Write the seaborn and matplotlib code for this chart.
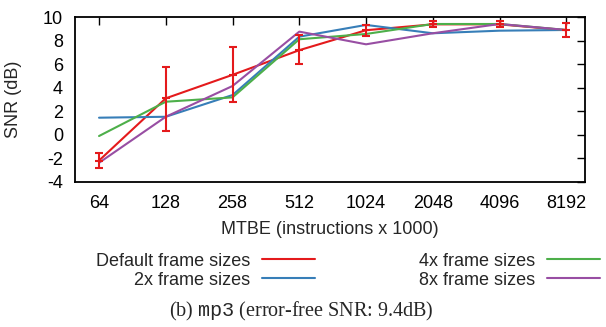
import numpy as np
import pandas as pd
import matplotlib
matplotlib.use("Agg")
import matplotlib.pyplot as plt
import seaborn as sns

# ---- data ----
mtbe_labels = ["64", "128", "258", "512", "1024", "2048", "4096", "8192"]
series_names = ["Default frame sizes", "2x frame sizes", "4x frame sizes", "8x frame sizes"]
snr_default = [-2.2, 3.1, 5.1, 7.2, 8.9, 9.4, 9.4, 8.9]
snr_default_low = [-2.85, 0.35, 2.75, 6.0, 8.4, 9.15, 9.2, 8.35]
snr_default_high = [-1.55, 5.8, 7.5, 8.5, 9.35, 9.7, 9.65, 9.55]
snr_2x = [1.45, 1.53, 3.38, 8.35, 9.35, 8.64, 8.86, 8.92]
snr_4x = [-0.11, 2.81, 3.18, 8.13, 8.58, 9.43, 9.43, 8.92]
snr_8x = [-2.39, 1.53, 4.15, 8.78, 7.7, 8.64, 9.43, 8.92]
colors = ["#e41a1c", "#377eb8", "#4daf4a", "#984ea3"]

sns.set_style("white")
plt.rcParams["font.family"] = ["Liberation Sans", "DejaVu Sans"]
plt.rcParams["axes.unicode_minus"] = False
plt.rcParams["mathtext.fontset"] = "custom"
plt.rcParams["mathtext.tt"] = "Liberation Mono"
plt.rcParams["mathtext.rm"] = "Liberation Serif"

pos = np.arange(len(mtbe_labels))
rows = []
for name, vals in zip(series_names, [snr_default, snr_2x, snr_4x, snr_8x]):
    for p, v in zip(pos, vals):
        rows.append({"pos": p, "snr": v, "series": name})
df = pd.DataFrame(rows)

fig = plt.figure(figsize=(6.06, 3.27), dpi=100)
ax = fig.add_axes([75 / 606, 1 - 181.7 / 327, 510 / 606, 164.4 / 327])

sns.lineplot(data=df, x="pos", y="snr", hue="series", hue_order=series_names,
             palette=colors, sort=False, linewidth=1.5, ax=ax, legend=False)

yerr = [np.array(snr_default) - np.array(snr_default_low),
        np.array(snr_default_high) - np.array(snr_default)]
ax.errorbar(pos, snr_default, yerr=yerr, fmt="_", color=colors[0], ecolor=colors[0],
            elinewidth=1.5, capsize=2.9, capthick=1.5, markersize=6, mew=1.5, zorder=5)

ax.set_xlim(-0.36, 7.28)
ax.set_ylim(-4, 10)
ax.set_xticks(pos)
ax.set_xticklabels(mtbe_labels)
ax.set_yticks(np.arange(-4, 11, 2))
ax.tick_params(direction="in", length=5.8, width=1, top=True, right=True,
               labelsize=13, pad=9.4, colors="black")
ax.tick_params(axis="y", pad=8.6)
for s in ax.spines.values():
    s.set_linewidth(1.3)
    s.set_color("black")

ax.set_xlabel("MTBE (instructions x 1000)", fontsize=13, labelpad=7)
ax.set_ylabel("SNR (dB)", fontsize=13)
ax.yaxis.set_label_coords(-0.104, 0.5)

handles = ax.get_lines()[:4]
ax.legend(handles, series_names, ncol=2, markerfirst=False, frameon=False,
          fontsize=13, handlelength=2.93, handletextpad=0.66, columnspacing=5.76,
          labelspacing=0.12, borderpad=0, borderaxespad=0, loc="upper left",
          bbox_to_anchor=(96 / 606, 1 - 252.5 / 327), bbox_transform=fig.transFigure)

fig.text(301 / 606, 1 - 311 / 327, r"(b) $\mathtt{mp3}$ (error-free SNR: 9.4dB)",
         ha="center", va="center", family="Liberation Serif", fontsize=14.5)

fig.savefig("out.png", dpi=100)
